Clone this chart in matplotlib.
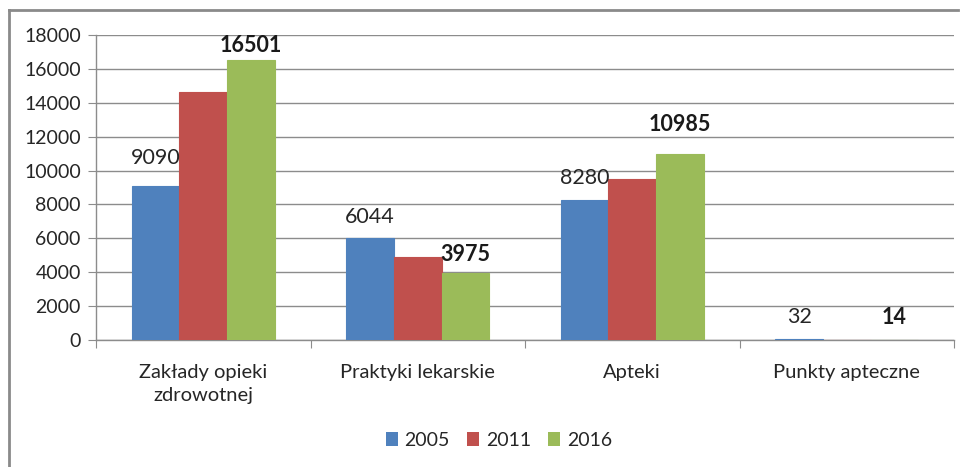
import matplotlib
matplotlib.use("Agg")
import matplotlib.pyplot as plt
from matplotlib.lines import Line2D
from matplotlib.patches import Patch
import numpy as np

categories = ["Zakłady opieki\nzdrowotnej", "Praktyki lekarskie", "Apteki", "Punkty apteczne"]
years = ["2005", "2011", "2016"]
v2005 = [9090, 6044, 8280, 32]
v2011 = [14620, 4900, 9480, 22]
v2016 = [16501, 3975, 10985, 14]
colors = ["#4F81BD", "#C0504D", "#9BBB59"]
yticks = [0, 2000, 4000, 6000, 8000, 10000, 12000, 14000, 16000, 18000]

# label gaps above bar tops (pixels), as placed in the original
gap2005 = [22, 15, 16, 16]
gap2016 = [8, 12, 23, 16]

plt.rcParams['font.family'] = ['Lato', 'DejaVu Sans']
W, H = 968, 467
fig = plt.figure(figsize=(W / 100, H / 100), dpi=100)
ax = fig.add_axes([96 / W, 1 - 340 / H, (954 - 96) / W, (340 - 35) / H])

x = np.arange(len(categories))
bw = 1 / 4.5
series = [v2005, v2011, v2016]
for k, (vals, c) in enumerate(zip(series, colors)):
    ax.bar(x + (k - 1) * bw, vals, width=bw, color=c, edgecolor=c, linewidth=0.8, zorder=3)

for i in range(len(categories)):
    ax.annotate(str(v2005[i]), (x[i] - bw, v2005[i]), xytext=(0, gap2005[i]), textcoords="offset pixels",
                ha="center", va="baseline", fontsize=15.5, color="#262626")
    ax.annotate(str(v2016[i]), (x[i] + bw, v2016[i]), xytext=(0, gap2016[i]), textcoords="offset pixels",
                ha="center", va="baseline", fontsize=15.5, color="#1a1a1a", fontweight="bold")

ax.set_xlim(-0.5, len(categories) - 0.5)
ax.set_ylim(0, 18000)
ax.set_yticks(yticks)
ax.set_yticklabels([str(t) for t in yticks], fontsize=14, color="#262626")
ax.yaxis.grid(True, color="#8c8c8c", linewidth=1, zorder=0)
ax.set_axisbelow(True)

ax.set_xticks(np.arange(-0.5, len(categories)), minor=False)
ax.set_xticklabels([])
ax.tick_params(axis="x", length=6, color="#8c8c8c", direction="out")
ax.tick_params(axis="y", length=6, color="#8c8c8c", direction="out", pad=5)
ax.set_xticks(x, minor=True)
ax.set_xticklabels(categories, minor=True, fontsize=14.5, color="#262626", linespacing=1.45)
ax.tick_params(axis="x", which="minor", length=0, pad=17)

for s in ["top", "right"]:
    ax.spines[s].set_visible(False)
for s in ["left", "bottom"]:
    ax.spines[s].set_color("#8c8c8c")
    ax.spines[s].set_linewidth(1)

handles = [Patch(facecolor=c, label=y) for c, y in zip(colors, years)]
fig.legend(handles=handles, loc="center", bbox_to_anchor=(499 / W, 1 - 440 / H), ncol=3,
           frameon=False, fontsize=14, handlelength=0.6, handleheight=0.7, handletextpad=0.35,
           columnspacing=0.9, labelcolor="#262626")

fig.add_artist(Line2D([9 / W, 958 / W], [1 - 10 / H, 1 - 10 / H], color="#8a8a8a", lw=2, transform=fig.transFigure))
fig.add_artist(Line2D([9 / W, 9 / W], [1 - 10 / H, 0], color="#8a8a8a", lw=2, transform=fig.transFigure))

fig.savefig("out.png", dpi=100)
